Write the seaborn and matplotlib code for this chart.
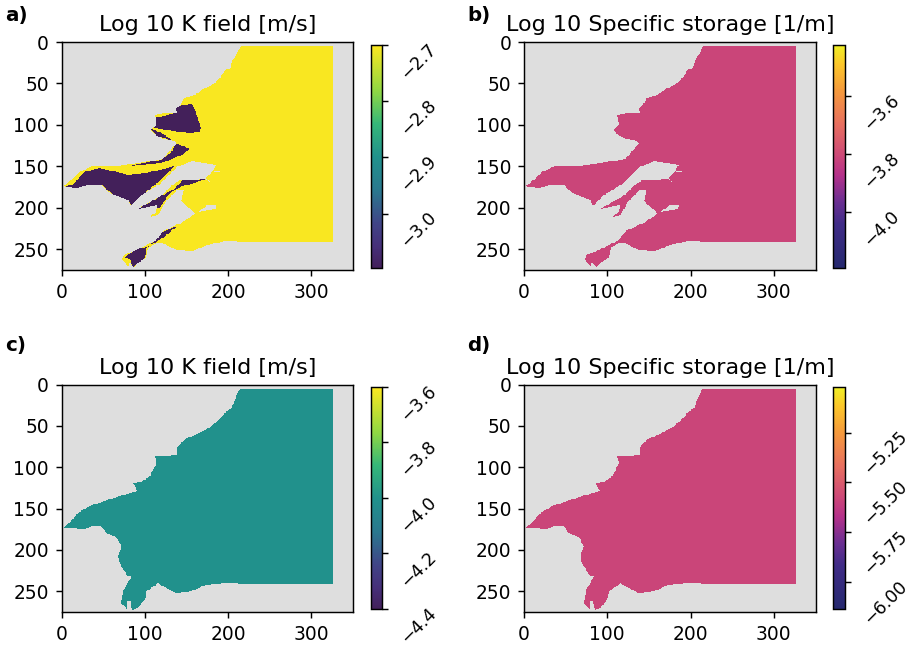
import numpy as np
import matplotlib
matplotlib.use("Agg")
import matplotlib.pyplot as plt
from matplotlib.colors import LinearSegmentedColormap
from matplotlib.path import Path
from matplotlib.transforms import ScaledTranslation
import seaborn as sns

# model grid
nrow, ncol = 275, 350

# coastline with the estuaries open (panels a, b)
land_x = [215, 325.5, 325.5, 226, 196, 172, 158, 138, 124, 116, 104, 102, 92, 87, 82, 80, 73, 75, 92, 114,
          122, 144, 161, 144, 147, 138, 124, 116, 106, 114, 115, 92, 122, 134, 142, 173, 178, 174, 180, 186,
          156, 138, 120, 100, 94, 83, 80, 67, 55, 49, 35, 19, 7, 2, 15, 23, 39, 67, 92, 122,
          138, 132, 122, 110, 108, 114, 112, 124, 139, 138, 142, 148, 160, 170, 182, 191, 196, 203, 205, 210]
land_y = [5, 5, 241, 241, 240, 246, 252, 251, 244, 242, 248, 260, 266, 271, 266, 271, 262, 257, 250, 239,
          228, 218, 207, 192, 178, 179, 194, 209, 211, 205, 197, 201, 184, 172, 167, 165, 169, 164, 158, 148,
          144, 151, 170, 182, 186, 198, 190, 186, 180, 173, 172, 176, 175, 174, 164, 156, 149, 149, 146, 141,
          122, 118, 117, 110, 106, 100, 88, 86, 86, 80, 77, 67, 64, 57, 51, 43, 34, 31, 23, 15]

# small inland water bodies
hole1_x = [164, 175, 187, 184]
hole1_y = [205, 197, 196, 202]
hole2_x = [182, 190, 190, 183]
hole2_y = [155, 155, 157, 157]

# coastline with the estuaries filled (panels c, d)
coast_x = [215, 325.5, 325.5, 227, 197, 173, 159, 151, 137, 124, 116, 102, 100, 92, 85, 83, 79, 79, 72, 74,
           84, 78, 70, 68, 72, 66, 54, 48, 36, 28, 10, 1, 10, 20, 34, 58, 72, 91, 86, 96,
           106, 114, 112, 139, 139, 149, 163, 179, 193, 197, 204, 208, 212]
coast_y = [5, 5, 241, 241, 240, 242, 249, 251, 252, 245, 240, 250, 260, 270, 272, 262, 262, 271, 265, 250,
           232, 230, 216, 208, 196, 184, 180, 171, 171, 175, 174, 174, 167, 155, 147, 139, 134, 129, 119, 118,
           111, 95, 87, 85, 76, 66, 60, 51, 39, 33, 29, 19, 9]

# low conductivity zones in panel a
zone1_x = [138, 157, 163, 167, 165, 153, 135, 118, 109, 114, 136]
zone1_y = [77, 75, 89, 104, 109, 110, 107, 105, 103, 91, 86]
zone2_x = [108, 112, 124, 134, 124, 114]
zone2_y = [105, 106, 112, 120, 116, 114]
zone3_x = [137, 154, 145, 120, 82, 120, 133]
zone3_y = [122, 129, 136, 146, 149, 142, 132]
zone4_x = [3, 14, 28, 46, 80, 102, 135, 120, 100, 84, 80, 66, 54, 50, 36, 20]
zone4_y = [175, 172, 156, 152, 160, 158, 150, 166, 182, 198, 190, 186, 178, 173, 172, 177]
zone5_x = [135, 145, 173, 163, 145, 130, 118, 92, 112, 128]
zone5_y = [178, 167, 165, 169, 174, 182, 200, 201, 190, 181]
zone6_x = [140, 122, 102, 100, 94, 86, 82, 75, 90, 106, 120]
zone6_y = [221, 236, 248, 260, 266, 271, 262, 260, 250, 246, 230]

# log10 values
k_high_a, k_low_a = -2.7, -3.096
ss_b = -3.81
k_c = -4.0
ss_d = -5.58

titles = ["Log 10 K field [m/s]", "Log 10 Specific storage [1/m]"] * 2
letters = ["a)", "b)", "c)", "d)"]
lims = [(-3.096, -2.7), (-4.189, -3.426), (-4.4, -3.6), (-6.135, -5.021)]
cbar_ticks = [[-3.0, -2.9, -2.8, -2.7], [-4.0, -3.8, -3.6],
              [-4.4, -4.2, -4.0, -3.8, -3.6], [-6.0, -5.75, -5.5, -5.25]]

W, H = 912, 647
dpi = 130
plt.rcParams["font.size"] = 10.3


def inside(xs, ys):
    cols, rows = np.meshgrid(np.arange(ncol) + 0.5, np.arange(nrow) + 0.5)
    pts = np.column_stack([cols.ravel(), rows.ravel()])
    return Path(np.column_stack([xs, ys])).contains_points(pts).reshape(nrow, ncol)


land = inside(land_x, land_y) & ~inside(hole1_x, hole1_y) & ~inside(hole2_x, hole2_y)
coast = inside(coast_x, coast_y)

field_a = np.full((nrow, ncol), k_high_a)
for zx, zy in [(zone1_x, zone1_y), (zone2_x, zone2_y), (zone3_x, zone3_y),
               (zone4_x, zone4_y), (zone5_x, zone5_y), (zone6_x, zone6_y)]:
    field_a[inside(zx, zy)] = k_low_a
field_b = np.full((nrow, ncol), ss_b)
field_c = np.full((nrow, ncol), k_c)
field_d = np.full((nrow, ncol), ss_d)

vir = LinearSegmentedColormap.from_list("vir", [
    (0, "#43205a"), (0.1, "#46307a"), (0.2, "#414487"), (0.35, "#2a788e"), (0.5, "#21918c"),
    (0.65, "#35b779"), (0.8, "#90d743"), (1, "#f9e721")])
pla = LinearSegmentedColormap.from_list("pla", [
    (0, "#25296f"), (0.2, "#402c87"), (0.3, "#6b2f92"), (0.42, "#b5318a"), (0.5, "#cb4679"),
    (0.65, "#e8705f"), (0.8, "#f59a3c"), (0.92, "#fcc72a"), (1, "#f0ed26")])

fig = plt.figure(figsize=(W / dpi, H / dpi), dpi=dpi)


def px_axes(left, right, top, bottom):
    return fig.add_axes([left / W, 1 - bottom / H, (right - left) / W, (bottom - top) / H])


map_boxes = [(61.5, 353, 42, 270), (524, 815.5, 42, 270), (61.5, 353, 384.5, 612), (524, 815.5, 384.5, 612)]
cbar_boxes = [(370.5, 382, 45, 267.5), (833, 844.5, 45, 267.5), (370.5, 382, 387, 608.7), (833, 844.5, 387, 608.7)]
label_pos = [(5, 21), (467, 21), (5, 351), (467, 351)]
fields = [field_a, field_b, field_c, field_d]
masks = [~land, ~land, ~coast, ~coast]
cmaps = [vir, pla, vir, pla]

for i in range(4):
    ax = px_axes(*map_boxes[i])
    cax = px_axes(*cbar_boxes[i])
    ax.set_facecolor("#dedede")
    sns.heatmap(fields[i], mask=masks[i], cmap=cmaps[i], vmin=lims[i][0], vmax=lims[i][1], ax=ax, cbar_ax=cax,
                cbar_kws={"ticks": cbar_ticks[i]}, xticklabels=False, yticklabels=False, rasterized=True)
    ax.set_xticks([0, 100, 200, 300])
    ax.set_xticklabels(["0", "100", "200", "300"], rotation=0)
    ax.set_yticks([0, 50, 100, 150, 200, 250])
    ax.set_yticklabels(["0", "50", "100", "150", "200", "250"], rotation=0)
    ax.tick_params(length=3.5, width=0.8)
    for s in ax.spines.values():
        s.set_visible(True)
        s.set_linewidth(0.8)
    ax.set_title(titles[i], fontsize=12.35)

    cb = ax.collections[0].colorbar
    cb.outline.set_visible(True)
    cb.outline.set_linewidth(0.8)
    cb.outline.set_edgecolor("black")
    cb.solids.set_edgecolor("face")
    cax.tick_params(length=3.5, width=0.8, pad=5, labelsize=9.7)
    # labels sit just under their tick in the original
    shift = ScaledTranslation(0, 5 / dpi, fig.dpi_scale_trans)
    for t in cax.get_yticklabels():
        t.set_rotation(45)
        t.set_va("top")
        t.set_ha("left")
        t.set_transform(t.get_transform() + shift)

    fig.text(label_pos[i][0] / W, 1 - label_pos[i][1] / H, letters[i], fontsize=11, fontweight="bold")

plt.savefig("out.png", dpi=dpi)
